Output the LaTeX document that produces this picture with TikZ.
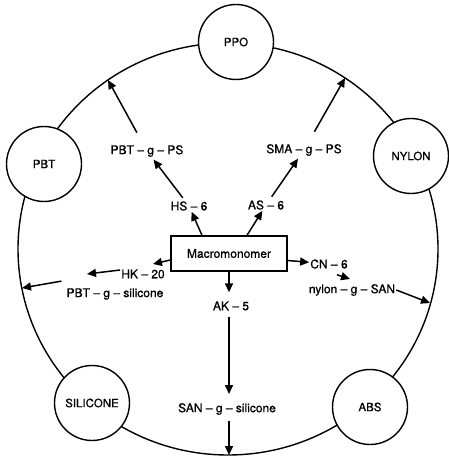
\documentclass[tikz,border=0pt]{standalone}
\usepackage{fontspec}
\setmainfont{TeX Gyre Heros}[FakeBold=0.8]
\usetikzlibrary{arrows.meta,calc}
\begin{document}
\begin{tikzpicture}[x=1pt,y=-1pt,
  lbl/.style={font=\fontsize{12}{14}\selectfont, inner sep=1pt},
  ring/.style={circle, draw, line width=1.4pt, fill=white, minimum size=75pt, inner sep=0pt, font=\fontsize{11.5}{13}\selectfont},
  arr/.style={line width=1.5pt, -{Triangle[length=9pt,width=8pt]}},
  mbox/.style={draw, line width=1.4pt, minimum width=116pt, minimum height=35pt, fill=white, font=\fontsize{12}{14}\selectfont}
]
\useasboundingbox (0,0) rectangle (448,462);
\draw[line width=1.4pt] (228,249) ellipse [x radius=210pt, y radius=206pt];

% ring nodes
\node[ring] (ppo)   at (236,42)  {PPO};
\node[ring] (pbt)   at (44,164)  {PBT};
\node[ring] (nylon) at (411,156) {NYLON};
\node[ring] (sil)   at (92,403)  {SILICONE};
\node[ring] (abs)   at (370,407) {ABS};

% centre box
\node[mbox] (mm) at (229,253.5) {Macromonomer};

% labels
\node[lbl] (pbtps)  at (147,151) {PBT – g – PS};
\node[lbl] (smaps)  at (304,150) {SMA – g – PS};
\node[lbl] (hs)     at (189,206) {HS – 6};
\node[lbl] (as)     at (266,205) {AS – 6};
\node[lbl] (hk)     at (143,274) {HK – 20};
\node[lbl] (pbtsil) at (115,294) {PBT – g – silicone};
\node[lbl] (cn)     at (329,264) {CN – 6};
\node[lbl] (nylsan) at (352,290) {nylon – g – SAN};
\node[lbl] (ak)     at (231,306) {AK – 5};
\node[lbl] (sansil) at (227,409) {SAN – g – silicone};

% free ends on the ring
\coordinate (a1) at (108,80);
\coordinate (a2) at (345,78);
\coordinate (lt) at (22,288);
\coordinate (rt) at (430,303);
\coordinate (bt) at (229,455);
\coordinate (hkt) at (153,264);
\coordinate (hkt2) at (87,274);

% arrows
\draw[arr, shorten <=13pt] (pbtps) -- (a1);
\draw[arr, shorten <=13pt] (smaps) -- (a2);
\draw[arr, shorten <=3pt, shorten >=2pt] (hs) -- (pbtps);
\draw[arr, shorten <=3pt, shorten >=2pt] (as) -- (smaps);
\draw[arr] ([xshift=-27pt]mm.north) -- (hs);
\draw[arr] ([xshift=18pt]mm.north) -- (as);
\draw[arr] ([yshift=-6.5pt]mm.west) -- (hkt);
\draw[arr] ([yshift=4pt]hk.west) -- (hkt2);
\draw[arr] ([xshift=-4pt,yshift=6pt]pbtsil.north west) -- (lt);
\draw[arr] ([yshift=-7pt]mm.east) -- (cn);
\draw[arr] ([xshift=8pt,yshift=-5pt]cn.south) -- ([xshift=-2pt,yshift=4pt]nylsan.north);
\draw[arr] (nylsan.east) -- (rt);
\draw[arr, shorten >=8pt] (mm.south) -- (mm.south |- ak.north);
\draw[arr, shorten <=5pt, shorten >=8pt] (mm.south |- ak.south) -- (mm.south |- sansil.north);
\draw[arr, shorten <=5pt] (mm.south |- sansil.south) -- (bt);
\end{tikzpicture}
\end{document}
